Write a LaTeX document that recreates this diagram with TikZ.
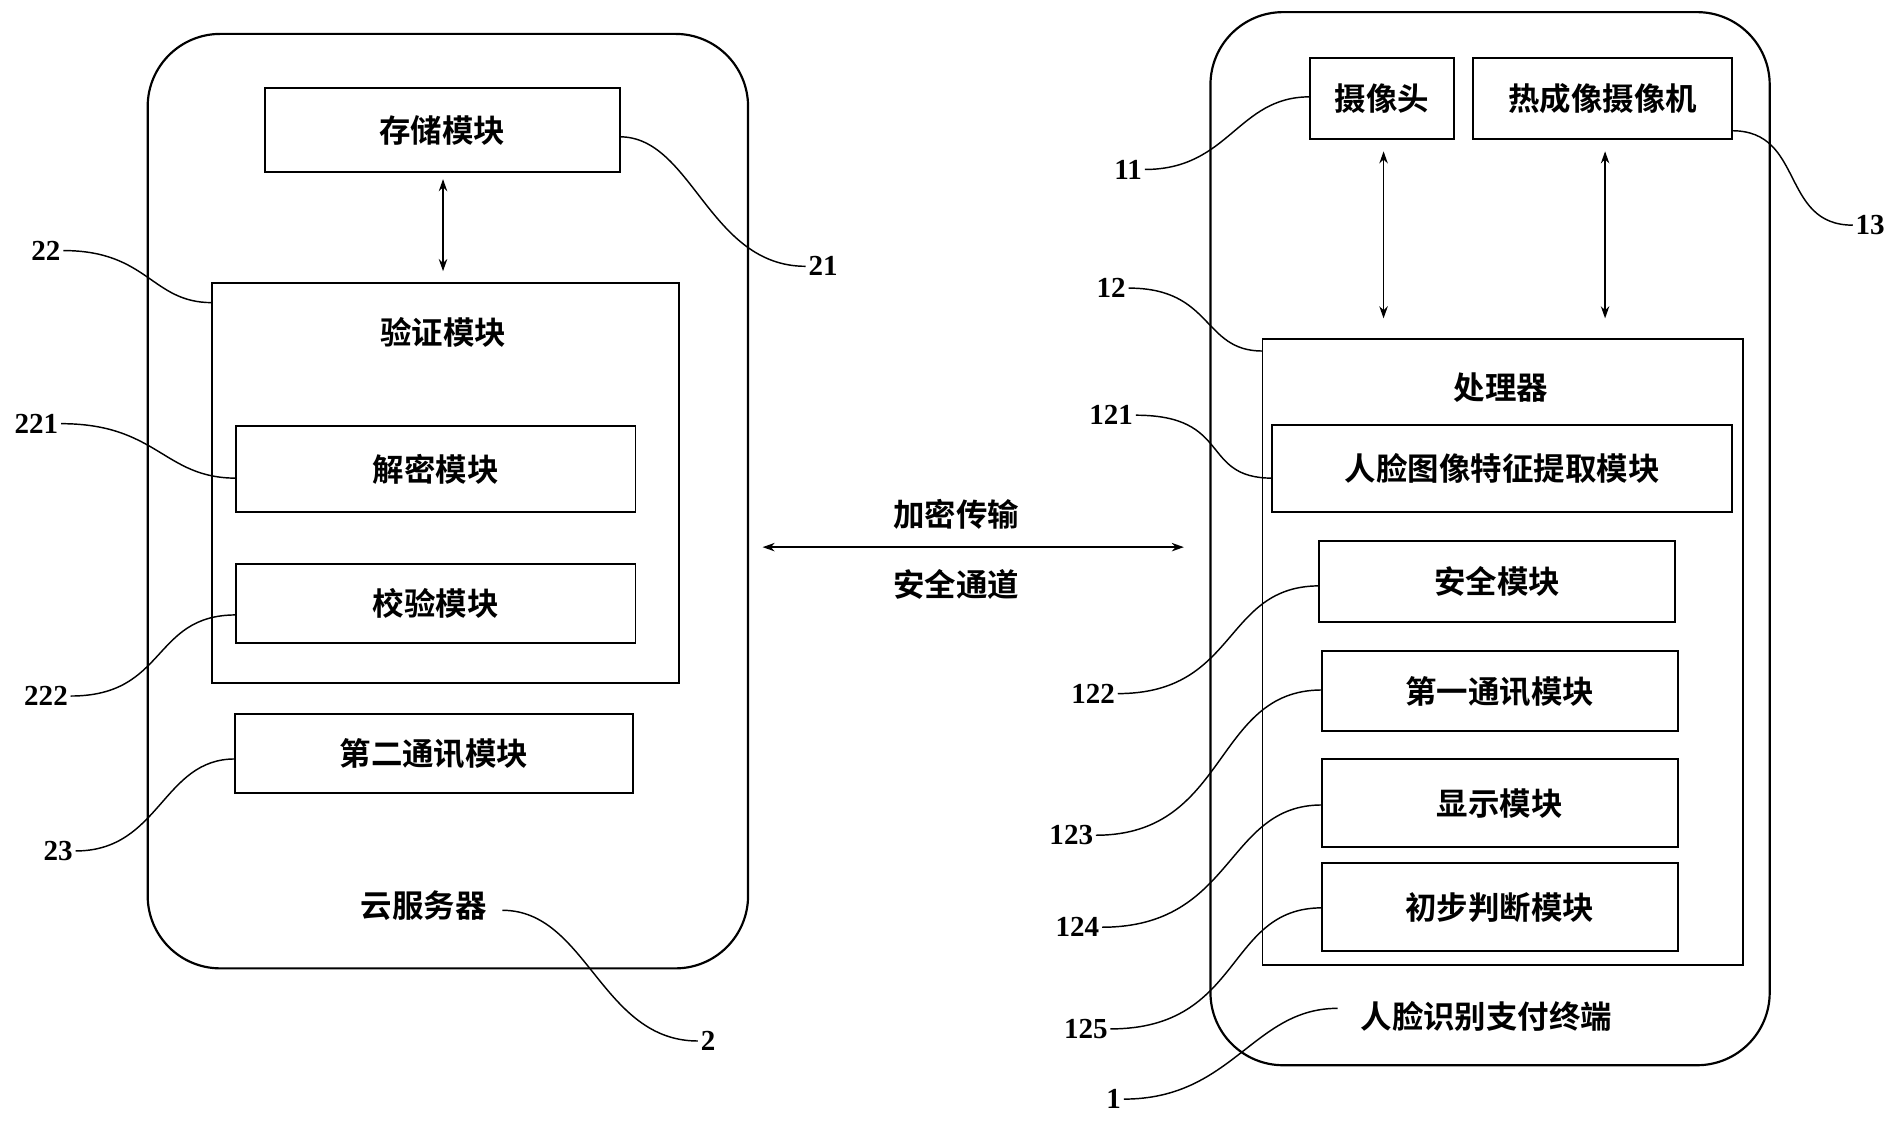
\documentclass[tikz,border=0pt]{standalone}
\usepackage{fontspec}
\newfontfamily\cjk{Noto Sans CJK SC}[BoldFont={Noto Sans CJK SC Bold}]
\setmainfont{Liberation Serif}
\usetikzlibrary{arrows.meta}
\begin{document}
\begin{tikzpicture}[x=0.5pt,y=-0.5pt,
  box/.style={draw,line width=0.8pt,inner sep=0pt,font=\cjk\bfseries\fontsize{13}{15}\selectfont},
  big/.style={draw,line width=0.9pt,rounded corners=30pt},
  txt/.style={font=\cjk\bfseries\fontsize{13}{15}\selectfont,inner sep=1pt},
  num/.style={font=\bfseries\fontsize{12}{14}\selectfont,inner sep=1pt},
  lead/.style={line width=0.6pt},
  arr/.style={line width=0.6pt,{Stealth[length=5pt,width=3.5pt]}-{Stealth[length=5pt,width=3.5pt]}}]
\useasboundingbox (0,0) rectangle (1568,928);
% left
\node[big,minimum width=248pt,minimum height=386pt] (cloud) at (370,414) {};
\node[box,minimum width=146.5pt,minimum height=34.5pt] (store) at (365.5,107.5) {存储模块};
\node[box,minimum width=193pt,minimum height=165pt] (verify) at (368,399) {};
\node[txt] (verifyt) at (366,275) {验证模块};
\node[box,minimum width=165pt,minimum height=35.5pt] (dec) at (360,387.5) {解密模块};
\node[box,minimum width=165pt,minimum height=32.5pt] (chk) at (360,498.5) {校验模块};
\node[box,minimum width=164.5pt,minimum height=32.5pt] (comm2) at (358.5,622.5) {第二通讯模块};
\node[txt] (cloudt) at (350,748) {云服务器};
\draw[arr] (366,148) coordinate (a1) -- (366,224) coordinate (a2);
\node[num] (n22) at (38,207) {22};
\node[num] (n21) at (680,220) {21};
\node[num] (n221) at (30,350) {221};
\node[num] (n222) at (38,575) {222};
\node[num] (n23) at (48,703) {23};
\node[num] (n2) at (585,860) {2};
\coordinate (c22) at (175,250);
\coordinate (c21) at (512,113);
\coordinate (c221) at (195,395);
\coordinate (c222) at (195,508);
\coordinate (c23) at (194,627);
\coordinate (c2) at (415,752);
\draw[lead] (n22.east) .. controls +(70,0) and +(-50,0) .. (c22);
\draw[lead] (c21) .. controls +(60,0) and +(-80,0) .. (n21.west);
\draw[lead] (n221.east) .. controls +(80,0) and +(-60,0) .. (c221);
\draw[lead] (n222.east) .. controls +(80,0) and +(-70,0) .. (c222);
\draw[lead] (n23.east) .. controls +(70,0) and +(-60,0) .. (c23);
\draw[lead] (c2) .. controls +(70,0) and +(-80,0) .. (n2.west);
% middle
\node[txt] (enc) at (790,425) {加密传输};
\node[txt] (sec) at (790,483) {安全通道};
\draw[arr] (630,452) coordinate (m1) -- (978,452) coordinate (m2);
% right
\node[big,minimum width=231pt,minimum height=435pt] (term) at (1231,445) {};
\node[box,minimum width=59.5pt,minimum height=33.5pt] (cam) at (1141.5,81.5) {摄像头};
\node[box,minimum width=107pt,minimum height=33.5pt] (therm) at (1324,81.5) {热成像摄像机};
\node[box,minimum width=198.5pt,minimum height=258.5pt] (proc) at (1241.5,538.5) {};
\node[txt] (proct) at (1240,320) {处理器};
\node[box,minimum width=190pt,minimum height=36pt] (face) at (1241,387) {人脸图像特征提取模块};
\node[box,minimum width=147pt,minimum height=33.5pt] (safe) at (1237,480.5) {安全模块};
\node[box,minimum width=147pt,minimum height=33pt] (comm1) at (1239,571) {第一通讯模块};
\node[box,minimum width=147pt,minimum height=36.5pt] (disp) at (1239,663.5) {显示模块};
\node[box,minimum width=147pt,minimum height=36.5pt] (judge) at (1239,749.5) {初步判断模块};
\node[txt] (termt) at (1228,840) {人脸识别支付终端};
\draw[arr] (1143,125) coordinate (r1) -- (1143,263) coordinate (r2);
\draw[arr] (1326,125) coordinate (r3) -- (1326,263) coordinate (r4);
\node[num] (n11) at (932,140) {11};
\node[num] (n13) at (1545,186) {13};
\node[num] (n12) at (918,238) {12};
\node[num] (n121) at (918,343) {121};
\node[num] (n122) at (903,573) {122};
\node[num] (n123) at (885,690) {123};
\node[num] (n124) at (890,766) {124};
\node[num] (n125) at (897,850) {125};
\node[num] (n1) at (920,908) {1};
\coordinate (c11) at (1082,80);
\coordinate (c13) at (1431,108);
\coordinate (c12) at (1043,290);
\coordinate (c121) at (1051,395);
\coordinate (c122) at (1090,484);
\coordinate (c123) at (1092,570);
\coordinate (c124) at (1092,665);
\coordinate (c125) at (1092,750);
\coordinate (c1) at (1105,833);
\draw[lead] (n11.east) .. controls +(70,0) and +(-60,0) .. (c11);
\draw[lead] (c13) .. controls +(60,0) and +(-60,0) .. (n13.west);
\draw[lead] (n12.east) .. controls +(70,0) and +(-50,0) .. (c12);
\draw[lead] (n121.east) .. controls +(80,0) and +(-60,0) .. (c121);
\draw[lead] (n122.east) .. controls +(100,0) and +(-80,0) .. (c122);
\draw[lead] (n123.east) .. controls +(110,0) and +(-90,0) .. (c123);
\draw[lead] (n124.east) .. controls +(110,0) and +(-80,0) .. (c124);
\draw[lead] (n125.east) .. controls +(110,0) and +(-80,0) .. (c125);
\draw[lead] (n1.east) .. controls +(90,0) and +(-70,0) .. (c1);
\end{tikzpicture}
\end{document}
